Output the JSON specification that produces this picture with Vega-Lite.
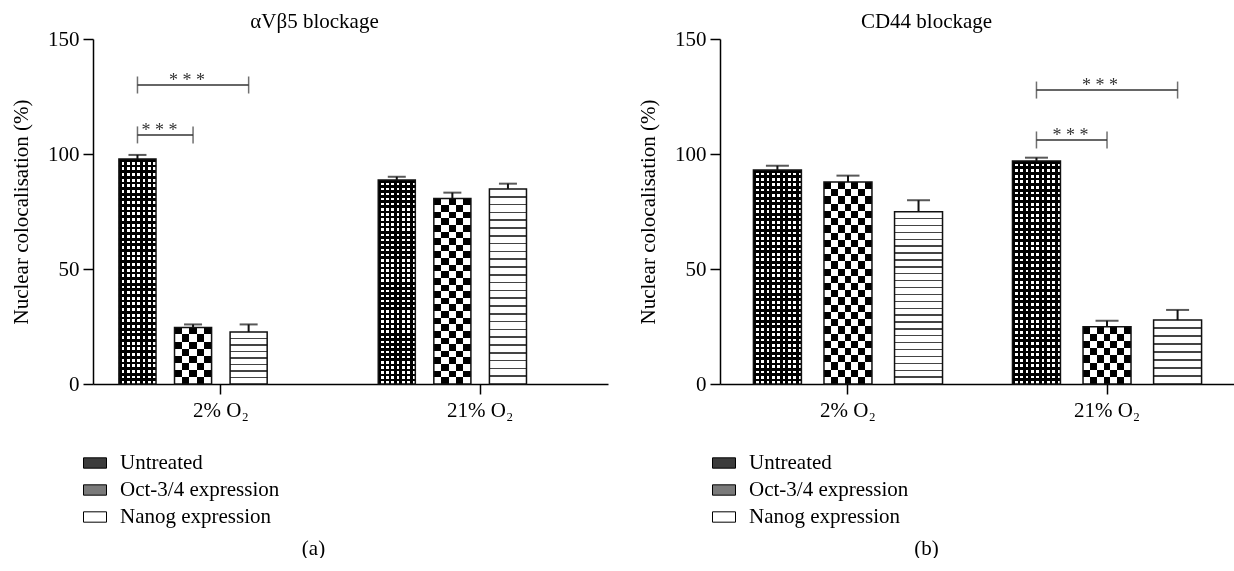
{
  "$schema": "https://vega.github.io/schema/vega-lite/v6.json",
  "background": "white",
  "padding": {"left": 10, "top": 11, "right": 0, "bottom": 0},
  "spacing": 29,
  "datasets": {
    "bars": [
      {"panel": "a", "oxygen": "2% O₂", "series": "Untreated", "value": 97.8, "err": 99.6},
      {"panel": "a", "oxygen": "2% O₂", "series": "Oct-3/4 expression", "value": 24.6, "err": 25.9},
      {"panel": "a", "oxygen": "2% O₂", "series": "Nanog expression", "value": 22.6, "err": 25.9},
      {"panel": "a", "oxygen": "21% O₂", "series": "Untreated", "value": 88.7, "err": 90.1},
      {"panel": "a", "oxygen": "21% O₂", "series": "Oct-3/4 expression", "value": 80.7, "err": 83.2},
      {"panel": "a", "oxygen": "21% O₂", "series": "Nanog expression", "value": 84.8, "err": 87.1},
      {"panel": "b", "oxygen": "2% O₂", "series": "Untreated", "value": 93.0, "err": 94.9},
      {"panel": "b", "oxygen": "2% O₂", "series": "Oct-3/4 expression", "value": 87.8, "err": 90.6},
      {"panel": "b", "oxygen": "2% O₂", "series": "Nanog expression", "value": 74.9, "err": 79.9},
      {"panel": "b", "oxygen": "21% O₂", "series": "Untreated", "value": 97.0, "err": 98.4},
      {"panel": "b", "oxygen": "21% O₂", "series": "Oct-3/4 expression", "value": 24.9, "err": 27.5},
      {"panel": "b", "oxygen": "21% O₂", "series": "Nanog expression", "value": 27.8, "err": 32.2}
    ],
    "brackets": [
      {"panel": "a", "id": "a1", "oxygen": "2% O₂", "series": "Untreated", "y": 130},
      {"panel": "a", "id": "a1", "oxygen": "2% O₂", "series": "Nanog expression", "y": 130},
      {"panel": "a", "id": "a2", "oxygen": "2% O₂", "series": "Untreated", "y": 108.3},
      {"panel": "a", "id": "a2", "oxygen": "2% O₂", "series": "Oct-3/4 expression", "y": 108.3},
      {"panel": "b", "id": "b1", "oxygen": "21% O₂", "series": "Untreated", "y": 127.8},
      {"panel": "b", "id": "b1", "oxygen": "21% O₂", "series": "Nanog expression", "y": 127.8},
      {"panel": "b", "id": "b2", "oxygen": "21% O₂", "series": "Untreated", "y": 106.1},
      {"panel": "b", "id": "b2", "oxygen": "21% O₂", "series": "Oct-3/4 expression", "y": 106.1}
    ],
    "stars": [
      {"panel": "a", "kind": "wide", "oxygen": "2% O₂", "series": "Oct-3/4 expression", "y": 130, "label": "* * *"},
      {"panel": "a", "kind": "adjacent", "oxygen": "2% O₂", "series": "Untreated", "y": 108.3, "label": "* * *"},
      {"panel": "b", "kind": "wide", "oxygen": "21% O₂", "series": "Oct-3/4 expression", "y": 127.8, "label": "* * *"},
      {"panel": "b", "kind": "adjacent", "oxygen": "21% O₂", "series": "Untreated", "y": 106.1, "label": "* * *"}
    ]
  },
  "resolve": {"scale": {"fill": "independent", "xOffset": "independent", "x": "independent", "y": "independent"}, "legend": {"fill": "independent"}},
  "hconcat": [
    {
      "width": 515,
      "height": 345,
      "title": {"text": "αVβ5 blockage", "anchor": "middle", "frame": "group", "dx": -36},
      "encoding": {
        "x": {"field": "oxygen", "type": "nominal", "sort": ["2% O₂", "21% O₂"], "scale": {"paddingInner": 0.214, "paddingOuter": 0.1}, "axis": {"title": "(a)", "titleX": 220, "titleY": 164, "titleBaseline": "middle", "titleAlign": "center"}},
        "xOffset": {"field": "series", "type": "nominal", "scale": {"domain": ["Untreated", "Oct-3/4 expression", "Nanog expression", "blank"], "paddingInner": 0.333, "paddingOuter": 0}}
      },
      "layer": [
        {"data": {"name": "bars"}, "transform": [{"filter": "datum.panel === 'a'"}],
         "mark": {"type": "bar", "strokeWidth": 0},
         "encoding": {
           "y": {"field": "value", "type": "quantitative", "scale": {"domain": [0, 150], "nice": false}, "axis": {"values": [0, 50, 100, 150]}, "title": "Nuclear colocalisation (%)"},
           "fill": {"field": "series", "type": "nominal", "scale": {"domain": ["Untreated", "Oct-3/4 expression", "Nanog expression"], "range": ["#3c3c3c", "#7a7a7a", "#ffffff"]},
             "legend": {"orient": "none", "legendX": -10, "legendY": 412, "title": null, "direction": "vertical", "symbolType": "M-1,-0.45H1V0.45H-1Z", "symbolSize": 529, "symbolStrokeColor": "#000", "symbolStrokeWidth": 1, "labelFont": "Liberation Serif", "labelFontSize": 21, "labelColor": "#000", "labelOffset": 13, "rowPadding": 5, "padding": 0}}
         }},
        {"data": {"name": "bars"}, "transform": [{"filter": "datum.panel === 'a' && datum.series === 'Untreated'"}],
         "mark": {"type": "bar", "fill": {"gradient": "linear", "x1": 0, "y1": 0, "x2": 0, "y2": 1, "stops": [
           {"offset": 0, "color": "#000"}, {"offset": 0.0125, "color": "#000"}, {"offset": 0.0125, "color": "#fff"}, {"offset": 0.025, "color": "#fff"}, {"offset": 0.025, "color": "#000"}, {"offset": 0.0375, "color": "#000"}, {"offset": 0.0375, "color": "#fff"}, {"offset": 0.05, "color": "#fff"}, {"offset": 0.05, "color": "#000"}, {"offset": 0.0625, "color": "#000"}, {"offset": 0.0625, "color": "#fff"}, {"offset": 0.075, "color": "#fff"}, {"offset": 0.075, "color": "#000"}, {"offset": 0.0875, "color": "#000"}, {"offset": 0.0875, "color": "#fff"}, {"offset": 0.1, "color": "#fff"}, {"offset": 0.1, "color": "#000"}, {"offset": 0.1125, "color": "#000"}, {"offset": 0.1125, "color": "#fff"}, {"offset": 0.125, "color": "#fff"}, {"offset": 0.125, "color": "#000"}, {"offset": 0.1375, "color": "#000"}, {"offset": 0.1375, "color": "#fff"}, {"offset": 0.15, "color": "#fff"}, {"offset": 0.15, "color": "#000"}, {"offset": 0.1625, "color": "#000"}, {"offset": 0.1625, "color": "#fff"}, {"offset": 0.175, "color": "#fff"}, {"offset": 0.175, "color": "#000"}, {"offset": 0.1875, "color": "#000"}, {"offset": 0.1875, "color": "#fff"}, {"offset": 0.2, "color": "#fff"}, {"offset": 0.2, "color": "#000"}, {"offset": 0.2125, "color": "#000"}, {"offset": 0.2125, "color": "#fff"}, {"offset": 0.225, "color": "#fff"}, {"offset": 0.225, "color": "#000"}, {"offset": 0.2375, "color": "#000"}, {"offset": 0.2375, "color": "#fff"}, {"offset": 0.25, "color": "#fff"}, {"offset": 0.25, "color": "#000"}, {"offset": 0.2625, "color": "#000"}, {"offset": 0.2625, "color": "#fff"}, {"offset": 0.275, "color": "#fff"}, {"offset": 0.275, "color": "#000"}, {"offset": 0.2875, "color": "#000"}, {"offset": 0.2875, "color": "#fff"}, {"offset": 0.3, "color": "#fff"}, {"offset": 0.3, "color": "#000"}, {"offset": 0.3125, "color": "#000"}, {"offset": 0.3125, "color": "#fff"}, {"offset": 0.325, "color": "#fff"}, {"offset": 0.325, "color": "#000"}, {"offset": 0.3375, "color": "#000"}, {"offset": 0.3375, "color": "#fff"}, {"offset": 0.35, "color": "#fff"}, {"offset": 0.35, "color": "#000"}, {"offset": 0.3625, "color": "#000"}, {"offset": 0.3625, "color": "#fff"}, {"offset": 0.375, "color": "#fff"}, {"offset": 0.375, "color": "#000"}, {"offset": 0.3875, "color": "#000"}, {"offset": 0.3875, "color": "#fff"}, {"offset": 0.4, "color": "#fff"}, {"offset": 0.4, "color": "#000"}, {"offset": 0.4125, "color": "#000"}, {"offset": 0.4125, "color": "#fff"}, {"offset": 0.425, "color": "#fff"}, {"offset": 0.425, "color": "#000"}, {"offset": 0.4375, "color": "#000"}, {"offset": 0.4375, "color": "#fff"}, {"offset": 0.45, "color": "#fff"}, {"offset": 0.45, "color": "#000"}, {"offset": 0.4625, "color": "#000"}, {"offset": 0.4625, "color": "#fff"}, {"offset": 0.475, "color": "#fff"}, {"offset": 0.475, "color": "#000"}, {"offset": 0.4875, "color": "#000"}, {"offset": 0.4875, "color": "#fff"}, {"offset": 0.5, "color": "#fff"}, {"offset": 0.5, "color": "#000"}, {"offset": 0.5125, "color": "#000"}, {"offset": 0.5125, "color": "#fff"}, {"offset": 0.525, "color": "#fff"}, {"offset": 0.525, "color": "#000"}, {"offset": 0.5375, "color": "#000"}, {"offset": 0.5375, "color": "#fff"}, {"offset": 0.55, "color": "#fff"}, {"offset": 0.55, "color": "#000"}, {"offset": 0.5625, "color": "#000"}, {"offset": 0.5625, "color": "#fff"}, {"offset": 0.575, "color": "#fff"}, {"offset": 0.575, "color": "#000"}, {"offset": 0.5875, "color": "#000"}, {"offset": 0.5875, "color": "#fff"}, {"offset": 0.6, "color": "#fff"}, {"offset": 0.6, "color": "#000"}, {"offset": 0.6125, "color": "#000"}, {"offset": 0.6125, "color": "#fff"}, {"offset": 0.625, "color": "#fff"}, {"offset": 0.625, "color": "#000"}, {"offset": 0.6375, "color": "#000"}, {"offset": 0.6375, "color": "#fff"}, {"offset": 0.65, "color": "#fff"}, {"offset": 0.65, "color": "#000"}, {"offset": 0.6625, "color": "#000"}, {"offset": 0.6625, "color": "#fff"}, {"offset": 0.675, "color": "#fff"}, {"offset": 0.675, "color": "#000"}, {"offset": 0.6875, "color": "#000"}, {"offset": 0.6875, "color": "#fff"}, {"offset": 0.7, "color": "#fff"}, {"offset": 0.7, "color": "#000"}, {"offset": 0.7125, "color": "#000"}, {"offset": 0.7125, "color": "#fff"}, {"offset": 0.725, "color": "#fff"}, {"offset": 0.725, "color": "#000"}, {"offset": 0.7375, "color": "#000"}, {"offset": 0.7375, "color": "#fff"}, {"offset": 0.75, "color": "#fff"}, {"offset": 0.75, "color": "#000"}, {"offset": 0.7625, "color": "#000"}, {"offset": 0.7625, "color": "#fff"}, {"offset": 0.775, "color": "#fff"}, {"offset": 0.775, "color": "#000"}, {"offset": 0.7875, "color": "#000"}, {"offset": 0.7875, "color": "#fff"}, {"offset": 0.8, "color": "#fff"}, {"offset": 0.8, "color": "#000"}, {"offset": 0.8125, "color": "#000"}, {"offset": 0.8125, "color": "#fff"}, {"offset": 0.825, "color": "#fff"}, {"offset": 0.825, "color": "#000"}, {"offset": 0.8375, "color": "#000"}, {"offset": 0.8375, "color": "#fff"}, {"offset": 0.85, "color": "#fff"}, {"offset": 0.85, "color": "#000"}, {"offset": 0.8625, "color": "#000"}, {"offset": 0.8625, "color": "#fff"}, {"offset": 0.875, "color": "#fff"}, {"offset": 0.875, "color": "#000"}, {"offset": 0.8875, "color": "#000"}, {"offset": 0.8875, "color": "#fff"}, {"offset": 0.9, "color": "#fff"}, {"offset": 0.9, "color": "#000"}, {"offset": 0.9125, "color": "#000"}, {"offset": 0.9125, "color": "#fff"}, {"offset": 0.925, "color": "#fff"}, {"offset": 0.925, "color": "#000"}, {"offset": 0.9375, "color": "#000"}, {"offset": 0.9375, "color": "#fff"}, {"offset": 0.95, "color": "#fff"}, {"offset": 0.95, "color": "#000"}, {"offset": 0.9625, "color": "#000"}, {"offset": 0.9625, "color": "#fff"}, {"offset": 0.975, "color": "#fff"}, {"offset": 0.975, "color": "#000"}, {"offset": 0.9875, "color": "#000"}, {"offset": 0.9875, "color": "#fff"}, {"offset": 1, "color": "#fff"}]}},
         "encoding": {"y": {"field": "value", "type": "quantitative", "title": "Nuclear colocalisation (%)"}}},
        {"data": {"name": "bars"}, "transform": [{"filter": "datum.panel === 'a' && datum.series === 'Untreated'"}],
         "mark": {"type": "bar", "blend": "multiply", "fill": {"gradient": "linear", "x1": 0, "y1": 0, "x2": 1, "y2": 0, "stops": [
           {"offset": 0, "color": "#000"}, {"offset": 0.0714, "color": "#000"}, {"offset": 0.0714, "color": "#fff"}, {"offset": 0.1429, "color": "#fff"}, {"offset": 0.1429, "color": "#000"}, {"offset": 0.2143, "color": "#000"}, {"offset": 0.2143, "color": "#fff"}, {"offset": 0.2857, "color": "#fff"}, {"offset": 0.2857, "color": "#000"}, {"offset": 0.3571, "color": "#000"}, {"offset": 0.3571, "color": "#fff"}, {"offset": 0.4286, "color": "#fff"}, {"offset": 0.4286, "color": "#000"}, {"offset": 0.5, "color": "#000"}, {"offset": 0.5, "color": "#fff"}, {"offset": 0.5714, "color": "#fff"}, {"offset": 0.5714, "color": "#000"}, {"offset": 0.6429, "color": "#000"}, {"offset": 0.6429, "color": "#fff"}, {"offset": 0.7143, "color": "#fff"}, {"offset": 0.7143, "color": "#000"}, {"offset": 0.7857, "color": "#000"}, {"offset": 0.7857, "color": "#fff"}, {"offset": 0.8571, "color": "#fff"}, {"offset": 0.8571, "color": "#000"}, {"offset": 0.9286, "color": "#000"}, {"offset": 0.9286, "color": "#fff"}, {"offset": 1, "color": "#fff"}]}},
         "encoding": {"y": {"field": "value", "type": "quantitative", "title": "Nuclear colocalisation (%)"}}},
        {"data": {"name": "bars"}, "transform": [{"filter": "datum.panel === 'a' && datum.series === 'Oct-3/4 expression' && datum.value > 50"}],
         "mark": {"type": "bar", "fill": {"gradient": "linear", "x1": 0, "y1": 0, "x2": 0, "y2": 1, "stops": [
           {"offset": 0, "color": "#000"}, {"offset": 0.0357, "color": "#000"}, {"offset": 0.0357, "color": "#fff"}, {"offset": 0.0714, "color": "#fff"}, {"offset": 0.0714, "color": "#000"}, {"offset": 0.1071, "color": "#000"}, {"offset": 0.1071, "color": "#fff"}, {"offset": 0.1429, "color": "#fff"}, {"offset": 0.1429, "color": "#000"}, {"offset": 0.1786, "color": "#000"}, {"offset": 0.1786, "color": "#fff"}, {"offset": 0.2143, "color": "#fff"}, {"offset": 0.2143, "color": "#000"}, {"offset": 0.25, "color": "#000"}, {"offset": 0.25, "color": "#fff"}, {"offset": 0.2857, "color": "#fff"}, {"offset": 0.2857, "color": "#000"}, {"offset": 0.3214, "color": "#000"}, {"offset": 0.3214, "color": "#fff"}, {"offset": 0.3571, "color": "#fff"}, {"offset": 0.3571, "color": "#000"}, {"offset": 0.3929, "color": "#000"}, {"offset": 0.3929, "color": "#fff"}, {"offset": 0.4286, "color": "#fff"}, {"offset": 0.4286, "color": "#000"}, {"offset": 0.4643, "color": "#000"}, {"offset": 0.4643, "color": "#fff"}, {"offset": 0.5, "color": "#fff"}, {"offset": 0.5, "color": "#000"}, {"offset": 0.5357, "color": "#000"}, {"offset": 0.5357, "color": "#fff"}, {"offset": 0.5714, "color": "#fff"}, {"offset": 0.5714, "color": "#000"}, {"offset": 0.6071, "color": "#000"}, {"offset": 0.6071, "color": "#fff"}, {"offset": 0.6429, "color": "#fff"}, {"offset": 0.6429, "color": "#000"}, {"offset": 0.6786, "color": "#000"}, {"offset": 0.6786, "color": "#fff"}, {"offset": 0.7143, "color": "#fff"}, {"offset": 0.7143, "color": "#000"}, {"offset": 0.75, "color": "#000"}, {"offset": 0.75, "color": "#fff"}, {"offset": 0.7857, "color": "#fff"}, {"offset": 0.7857, "color": "#000"}, {"offset": 0.8214, "color": "#000"}, {"offset": 0.8214, "color": "#fff"}, {"offset": 0.8571, "color": "#fff"}, {"offset": 0.8571, "color": "#000"}, {"offset": 0.8929, "color": "#000"}, {"offset": 0.8929, "color": "#fff"}, {"offset": 0.9286, "color": "#fff"}, {"offset": 0.9286, "color": "#000"}, {"offset": 0.9643, "color": "#000"}, {"offset": 0.9643, "color": "#fff"}, {"offset": 1, "color": "#fff"}]}},
         "encoding": {"y": {"field": "value", "type": "quantitative", "title": "Nuclear colocalisation (%)"}}},
        {"data": {"name": "bars"}, "transform": [{"filter": "datum.panel === 'a' && datum.series === 'Oct-3/4 expression' && datum.value <= 50"}],
         "mark": {"type": "bar", "fill": {"gradient": "linear", "x1": 0, "y1": 0, "x2": 0, "y2": 1, "stops": [
           {"offset": 0, "color": "#000"}, {"offset": 0.125, "color": "#000"}, {"offset": 0.125, "color": "#fff"}, {"offset": 0.25, "color": "#fff"}, {"offset": 0.25, "color": "#000"}, {"offset": 0.375, "color": "#000"}, {"offset": 0.375, "color": "#fff"}, {"offset": 0.5, "color": "#fff"}, {"offset": 0.5, "color": "#000"}, {"offset": 0.625, "color": "#000"}, {"offset": 0.625, "color": "#fff"}, {"offset": 0.75, "color": "#fff"}, {"offset": 0.75, "color": "#000"}, {"offset": 0.875, "color": "#000"}, {"offset": 0.875, "color": "#fff"}, {"offset": 1, "color": "#fff"}]}},
         "encoding": {"y": {"field": "value", "type": "quantitative", "title": "Nuclear colocalisation (%)"}}},
        {"data": {"name": "bars"}, "transform": [{"filter": "datum.panel === 'a' && datum.series === 'Oct-3/4 expression'"}],
         "mark": {"type": "bar", "blend": "difference", "fill": {"gradient": "linear", "x1": 0, "y1": 0, "x2": 1, "y2": 0, "stops": [
           {"offset": 0, "color": "#000"}, {"offset": 0.2, "color": "#000"}, {"offset": 0.2, "color": "#fff"}, {"offset": 0.4, "color": "#fff"}, {"offset": 0.4, "color": "#000"}, {"offset": 0.6, "color": "#000"}, {"offset": 0.6, "color": "#fff"}, {"offset": 0.8, "color": "#fff"}, {"offset": 0.8, "color": "#000"}, {"offset": 1, "color": "#000"}]}},
         "encoding": {"y": {"field": "value", "type": "quantitative", "title": "Nuclear colocalisation (%)"}}},
        {"data": {"name": "bars"}, "transform": [{"filter": "datum.panel === 'a' && datum.series === 'Nanog expression' && datum.value > 50"}],
         "mark": {"type": "bar", "fill": {"gradient": "linear", "x1": 0, "y1": 0, "x2": 0, "y2": 1, "stops": [
           {"offset": 0, "color": "#fff"},
           {"offset": 0.036, "color": "#fff"}, {"offset": 0.036, "color": "#444"}, {"offset": 0.044, "color": "#444"}, {"offset": 0.044, "color": "#fff"},
           {"offset": 0.076, "color": "#fff"}, {"offset": 0.076, "color": "#444"}, {"offset": 0.084, "color": "#444"}, {"offset": 0.084, "color": "#fff"},
           {"offset": 0.116, "color": "#fff"}, {"offset": 0.116, "color": "#444"}, {"offset": 0.124, "color": "#444"}, {"offset": 0.124, "color": "#fff"},
           {"offset": 0.156, "color": "#fff"}, {"offset": 0.156, "color": "#444"}, {"offset": 0.164, "color": "#444"}, {"offset": 0.164, "color": "#fff"},
           {"offset": 0.196, "color": "#fff"}, {"offset": 0.196, "color": "#444"}, {"offset": 0.204, "color": "#444"}, {"offset": 0.204, "color": "#fff"},
           {"offset": 0.236, "color": "#fff"}, {"offset": 0.236, "color": "#444"}, {"offset": 0.244, "color": "#444"}, {"offset": 0.244, "color": "#fff"},
           {"offset": 0.276, "color": "#fff"}, {"offset": 0.276, "color": "#444"}, {"offset": 0.284, "color": "#444"}, {"offset": 0.284, "color": "#fff"},
           {"offset": 0.316, "color": "#fff"}, {"offset": 0.316, "color": "#444"}, {"offset": 0.324, "color": "#444"}, {"offset": 0.324, "color": "#fff"},
           {"offset": 0.356, "color": "#fff"}, {"offset": 0.356, "color": "#444"}, {"offset": 0.364, "color": "#444"}, {"offset": 0.364, "color": "#fff"},
           {"offset": 0.396, "color": "#fff"}, {"offset": 0.396, "color": "#444"}, {"offset": 0.404, "color": "#444"}, {"offset": 0.404, "color": "#fff"},
           {"offset": 0.436, "color": "#fff"}, {"offset": 0.436, "color": "#444"}, {"offset": 0.444, "color": "#444"}, {"offset": 0.444, "color": "#fff"},
           {"offset": 0.476, "color": "#fff"}, {"offset": 0.476, "color": "#444"}, {"offset": 0.484, "color": "#444"}, {"offset": 0.484, "color": "#fff"},
           {"offset": 0.516, "color": "#fff"}, {"offset": 0.516, "color": "#444"}, {"offset": 0.524, "color": "#444"}, {"offset": 0.524, "color": "#fff"},
           {"offset": 0.556, "color": "#fff"}, {"offset": 0.556, "color": "#444"}, {"offset": 0.564, "color": "#444"}, {"offset": 0.564, "color": "#fff"},
           {"offset": 0.596, "color": "#fff"}, {"offset": 0.596, "color": "#444"}, {"offset": 0.604, "color": "#444"}, {"offset": 0.604, "color": "#fff"},
           {"offset": 0.636, "color": "#fff"}, {"offset": 0.636, "color": "#444"}, {"offset": 0.644, "color": "#444"}, {"offset": 0.644, "color": "#fff"},
           {"offset": 0.676, "color": "#fff"}, {"offset": 0.676, "color": "#444"}, {"offset": 0.684, "color": "#444"}, {"offset": 0.684, "color": "#fff"},
           {"offset": 0.716, "color": "#fff"}, {"offset": 0.716, "color": "#444"}, {"offset": 0.724, "color": "#444"}, {"offset": 0.724, "color": "#fff"},
           {"offset": 0.756, "color": "#fff"}, {"offset": 0.756, "color": "#444"}, {"offset": 0.764, "color": "#444"}, {"offset": 0.764, "color": "#fff"},
           {"offset": 0.796, "color": "#fff"}, {"offset": 0.796, "color": "#444"}, {"offset": 0.804, "color": "#444"}, {"offset": 0.804, "color": "#fff"},
           {"offset": 0.836, "color": "#fff"}, {"offset": 0.836, "color": "#444"}, {"offset": 0.844, "color": "#444"}, {"offset": 0.844, "color": "#fff"},
           {"offset": 0.876, "color": "#fff"}, {"offset": 0.876, "color": "#444"}, {"offset": 0.884, "color": "#444"}, {"offset": 0.884, "color": "#fff"},
           {"offset": 0.916, "color": "#fff"}, {"offset": 0.916, "color": "#444"}, {"offset": 0.924, "color": "#444"}, {"offset": 0.924, "color": "#fff"},
           {"offset": 0.956, "color": "#fff"}, {"offset": 0.956, "color": "#444"}, {"offset": 0.964, "color": "#444"}, {"offset": 0.964, "color": "#fff"},
           {"offset": 1, "color": "#fff"}]}},
         "encoding": {"y": {"field": "value", "type": "quantitative", "title": "Nuclear colocalisation (%)"}}},
        {"data": {"name": "bars"}, "transform": [{"filter": "datum.panel === 'a' && datum.series === 'Nanog expression' && datum.value <= 50"}],
         "mark": {"type": "bar", "fill": {"gradient": "linear", "x1": 0, "y1": 0, "x2": 0, "y2": 1, "stops": [
           {"offset": 0, "color": "#fff"},
           {"offset": 0.112, "color": "#fff"}, {"offset": 0.112, "color": "#444"}, {"offset": 0.138, "color": "#444"}, {"offset": 0.138, "color": "#fff"},
           {"offset": 0.237, "color": "#fff"}, {"offset": 0.237, "color": "#444"}, {"offset": 0.263, "color": "#444"}, {"offset": 0.263, "color": "#fff"},
           {"offset": 0.362, "color": "#fff"}, {"offset": 0.362, "color": "#444"}, {"offset": 0.388, "color": "#444"}, {"offset": 0.388, "color": "#fff"},
           {"offset": 0.487, "color": "#fff"}, {"offset": 0.487, "color": "#444"}, {"offset": 0.513, "color": "#444"}, {"offset": 0.513, "color": "#fff"},
           {"offset": 0.612, "color": "#fff"}, {"offset": 0.612, "color": "#444"}, {"offset": 0.638, "color": "#444"}, {"offset": 0.638, "color": "#fff"},
           {"offset": 0.737, "color": "#fff"}, {"offset": 0.737, "color": "#444"}, {"offset": 0.763, "color": "#444"}, {"offset": 0.763, "color": "#fff"},
           {"offset": 0.862, "color": "#fff"}, {"offset": 0.862, "color": "#444"}, {"offset": 0.888, "color": "#444"}, {"offset": 0.888, "color": "#fff"},
           {"offset": 1, "color": "#fff"}]}},
         "encoding": {"y": {"field": "value", "type": "quantitative", "title": "Nuclear colocalisation (%)"}}},
        {"data": {"name": "bars"}, "transform": [{"filter": "datum.panel === 'a'"}],
         "mark": {"type": "bar", "fill": "transparent", "stroke": "#111", "strokeWidth": 1.5},
         "encoding": {"y": {"field": "value", "type": "quantitative", "title": "Nuclear colocalisation (%)"}}},
        {"data": {"name": "bars"}, "transform": [{"filter": "datum.panel === 'a'"}],
         "mark": {"type": "rule", "color": "#111", "strokeWidth": 2},
         "encoding": {"y": {"field": "value", "type": "quantitative", "title": "Nuclear colocalisation (%)"}, "y2": {"field": "err"}}},
        {"data": {"name": "bars"}, "transform": [{"filter": "datum.panel === 'a'"}],
         "mark": {"type": "tick", "orient": "horizontal", "size": 18, "thickness": 2, "color": "#111"},
         "encoding": {"y": {"field": "err", "type": "quantitative", "title": "Nuclear colocalisation (%)"}}},
        {"data": {"name": "brackets"}, "transform": [{"filter": "datum.panel === 'a'"}],
         "mark": {"type": "line", "color": "#333", "strokeWidth": 1.5},
         "encoding": {"y": {"field": "y", "type": "quantitative", "title": "Nuclear colocalisation (%)"}, "detail": {"field": "id"}}},
        {"data": {"name": "brackets"}, "transform": [{"filter": "datum.panel === 'a'"}],
         "mark": {"type": "tick", "orient": "vertical", "size": 17, "thickness": 1.5, "color": "#333"},
         "encoding": {"y": {"field": "y", "type": "quantitative", "title": "Nuclear colocalisation (%)"}}},
        {"data": {"name": "stars"}, "transform": [{"filter": "datum.panel === 'a' && datum.kind === 'wide'"}],
         "mark": {"type": "text", "font": "Liberation Serif", "fontSize": 18, "color": "#333", "align": "center", "baseline": "alphabetic", "dy": 1, "dx": -6},
         "encoding": {"y": {"field": "y", "type": "quantitative", "title": "Nuclear colocalisation (%)"}, "text": {"field": "label"}}},
        {"data": {"name": "stars"}, "transform": [{"filter": "datum.panel === 'a' && datum.kind === 'adjacent'"}],
         "mark": {"type": "text", "font": "Liberation Serif", "fontSize": 18, "color": "#333", "align": "left", "baseline": "alphabetic", "dy": 1, "dx": 4},
         "encoding": {"y": {"field": "y", "type": "quantitative", "title": "Nuclear colocalisation (%)"}, "text": {"field": "label"}}}
      ]
    },
    {
      "width": 515,
      "height": 345,
      "title": {"text": "CD44 blockage", "anchor": "middle", "frame": "group", "dx": -51},
      "encoding": {
        "x": {"field": "oxygen", "type": "nominal", "sort": ["2% O₂", "21% O₂"], "scale": {"paddingInner": 0.27, "paddingOuter": 0.129}, "axis": {"title": "(b)", "titleX": 206, "titleY": 164, "titleBaseline": "middle", "titleAlign": "center"}},
        "xOffset": {"field": "series", "type": "nominal", "scale": {"domain": ["Untreated", "Oct-3/4 expression", "Nanog expression"], "paddingInner": 0.32, "paddingOuter": 0}}
      },
      "layer": [
        {"data": {"name": "bars"}, "transform": [{"filter": "datum.panel === 'b'"}],
         "mark": {"type": "bar", "strokeWidth": 0},
         "encoding": {
           "y": {"field": "value", "type": "quantitative", "scale": {"domain": [0, 150], "nice": false}, "axis": {"values": [0, 50, 100, 150]}, "title": "Nuclear colocalisation (%)"},
           "fill": {"field": "series", "type": "nominal", "scale": {"domain": ["Untreated", "Oct-3/4 expression", "Nanog expression"], "range": ["#3c3c3c", "#7a7a7a", "#ffffff"]},
             "legend": {"orient": "none", "legendX": -8, "legendY": 412, "title": null, "direction": "vertical", "symbolType": "M-1,-0.45H1V0.45H-1Z", "symbolSize": 529, "symbolStrokeColor": "#000", "symbolStrokeWidth": 1, "labelFont": "Liberation Serif", "labelFontSize": 21, "labelColor": "#000", "labelOffset": 13, "rowPadding": 5, "padding": 0}}
         }},
        {"data": {"name": "bars"}, "transform": [{"filter": "datum.panel === 'b' && datum.series === 'Untreated'"}],
         "mark": {"type": "bar", "fill": {"gradient": "linear", "x1": 0, "y1": 0, "x2": 0, "y2": 1, "stops": [
           {"offset": 0, "color": "#000"}, {"offset": 0.0125, "color": "#000"}, {"offset": 0.0125, "color": "#fff"}, {"offset": 0.025, "color": "#fff"}, {"offset": 0.025, "color": "#000"}, {"offset": 0.0375, "color": "#000"}, {"offset": 0.0375, "color": "#fff"}, {"offset": 0.05, "color": "#fff"}, {"offset": 0.05, "color": "#000"}, {"offset": 0.0625, "color": "#000"}, {"offset": 0.0625, "color": "#fff"}, {"offset": 0.075, "color": "#fff"}, {"offset": 0.075, "color": "#000"}, {"offset": 0.0875, "color": "#000"}, {"offset": 0.0875, "color": "#fff"}, {"offset": 0.1, "color": "#fff"}, {"offset": 0.1, "color": "#000"}, {"offset": 0.1125, "color": "#000"}, {"offset": 0.1125, "color": "#fff"}, {"offset": 0.125, "color": "#fff"}, {"offset": 0.125, "color": "#000"}, {"offset": 0.1375, "color": "#000"}, {"offset": 0.1375, "color": "#fff"}, {"offset": 0.15, "color": "#fff"}, {"offset": 0.15, "color": "#000"}, {"offset": 0.1625, "color": "#000"}, {"offset": 0.1625, "color": "#fff"}, {"offset": 0.175, "color": "#fff"}, {"offset": 0.175, "color": "#000"}, {"offset": 0.1875, "color": "#000"}, {"offset": 0.1875, "color": "#fff"}, {"offset": 0.2, "color": "#fff"}, {"offset": 0.2, "color": "#000"}, {"offset": 0.2125, "color": "#000"}, {"offset": 0.2125, "color": "#fff"}, {"offset": 0.225, "color": "#fff"}, {"offset": 0.225, "color": "#000"}, {"offset": 0.2375, "color": "#000"}, {"offset": 0.2375, "color": "#fff"}, {"offset": 0.25, "color": "#fff"}, {"offset": 0.25, "color": "#000"}, {"offset": 0.2625, "color": "#000"}, {"offset": 0.2625, "color": "#fff"}, {"offset": 0.275, "color": "#fff"}, {"offset": 0.275, "color": "#000"}, {"offset": 0.2875, "color": "#000"}, {"offset": 0.2875, "color": "#fff"}, {"offset": 0.3, "color": "#fff"}, {"offset": 0.3, "color": "#000"}, {"offset": 0.3125, "color": "#000"}, {"offset": 0.3125, "color": "#fff"}, {"offset": 0.325, "color": "#fff"}, {"offset": 0.325, "color": "#000"}, {"offset": 0.3375, "color": "#000"}, {"offset": 0.3375, "color": "#fff"}, {"offset": 0.35, "color": "#fff"}, {"offset": 0.35, "color": "#000"}, {"offset": 0.3625, "color": "#000"}, {"offset": 0.3625, "color": "#fff"}, {"offset": 0.375, "color": "#fff"}, {"offset": 0.375, "color": "#000"}, {"offset": 0.3875, "color": "#000"}, {"offset": 0.3875, "color": "#fff"}, {"offset": 0.4, "color": "#fff"}, {"offset": 0.4, "color": "#000"}, {"offset": 0.4125, "color": "#000"}, {"offset": 0.4125, "color": "#fff"}, {"offset": 0.425, "color": "#fff"}, {"offset": 0.425, "color": "#000"}, {"offset": 0.4375, "color": "#000"}, {"offset": 0.4375, "color": "#fff"}, {"offset": 0.45, "color": "#fff"}, {"offset": 0.45, "color": "#000"}, {"offset": 0.4625, "color": "#000"}, {"offset": 0.4625, "color": "#fff"}, {"offset": 0.475, "color": "#fff"}, {"offset": 0.475, "color": "#000"}, {"offset": 0.4875, "color": "#000"}, {"offset": 0.4875, "color": "#fff"}, {"offset": 0.5, "color": "#fff"}, {"offset": 0.5, "color": "#000"}, {"offset": 0.5125, "color": "#000"}, {"offset": 0.5125, "color": "#fff"}, {"offset": 0.525, "color": "#fff"}, {"offset": 0.525, "color": "#000"}, {"offset": 0.5375, "color": "#000"}, {"offset": 0.5375, "color": "#fff"}, {"offset": 0.55, "color": "#fff"}, {"offset": 0.55, "color": "#000"}, {"offset": 0.5625, "color": "#000"}, {"offset": 0.5625, "color": "#fff"}, {"offset": 0.575, "color": "#fff"}, {"offset": 0.575, "color": "#000"}, {"offset": 0.5875, "color": "#000"}, {"offset": 0.5875, "color": "#fff"}, {"offset": 0.6, "color": "#fff"}, {"offset": 0.6, "color": "#000"}, {"offset": 0.6125, "color": "#000"}, {"offset": 0.6125, "color": "#fff"}, {"offset": 0.625, "color": "#fff"}, {"offset": 0.625, "color": "#000"}, {"offset": 0.6375, "color": "#000"}, {"offset": 0.6375, "color": "#fff"}, {"offset": 0.65, "color": "#fff"}, {"offset": 0.65, "color": "#000"}, {"offset": 0.6625, "color": "#000"}, {"offset": 0.6625, "color": "#fff"}, {"offset": 0.675, "color": "#fff"}, {"offset": 0.675, "color": "#000"}, {"offset": 0.6875, "color": "#000"}, {"offset": 0.6875, "color": "#fff"}, {"offset": 0.7, "color": "#fff"}, {"offset": 0.7, "color": "#000"}, {"offset": 0.7125, "color": "#000"}, {"offset": 0.7125, "color": "#fff"}, {"offset": 0.725, "color": "#fff"}, {"offset": 0.725, "color": "#000"}, {"offset": 0.7375, "color": "#000"}, {"offset": 0.7375, "color": "#fff"}, {"offset": 0.75, "color": "#fff"}, {"offset": 0.75, "color": "#000"}, {"offset": 0.7625, "color": "#000"}, {"offset": 0.7625, "color": "#fff"}, {"offset": 0.775, "color": "#fff"}, {"offset": 0.775, "color": "#000"}, {"offset": 0.7875, "color": "#000"}, {"offset": 0.7875, "color": "#fff"}, {"offset": 0.8, "color": "#fff"}, {"offset": 0.8, "color": "#000"}, {"offset": 0.8125, "color": "#000"}, {"offset": 0.8125, "color": "#fff"}, {"offset": 0.825, "color": "#fff"}, {"offset": 0.825, "color": "#000"}, {"offset": 0.8375, "color": "#000"}, {"offset": 0.8375, "color": "#fff"}, {"offset": 0.85, "color": "#fff"}, {"offset": 0.85, "color": "#000"}, {"offset": 0.8625, "color": "#000"}, {"offset": 0.8625, "color": "#fff"}, {"offset": 0.875, "color": "#fff"}, {"offset": 0.875, "color": "#000"}, {"offset": 0.8875, "color": "#000"}, {"offset": 0.8875, "color": "#fff"}, {"offset": 0.9, "color": "#fff"}, {"offset": 0.9, "color": "#000"}, {"offset": 0.9125, "color": "#000"}, {"offset": 0.9125, "color": "#fff"}, {"offset": 0.925, "color": "#fff"}, {"offset": 0.925, "color": "#000"}, {"offset": 0.9375, "color": "#000"}, {"offset": 0.9375, "color": "#fff"}, {"offset": 0.95, "color": "#fff"}, {"offset": 0.95, "color": "#000"}, {"offset": 0.9625, "color": "#000"}, {"offset": 0.9625, "color": "#fff"}, {"offset": 0.975, "color": "#fff"}, {"offset": 0.975, "color": "#000"}, {"offset": 0.9875, "color": "#000"}, {"offset": 0.9875, "color": "#fff"}, {"offset": 1, "color": "#fff"}]}},
         "encoding": {"y": {"field": "value", "type": "quantitative", "title": "Nuclear colocalisation (%)"}}},
        {"data": {"name": "bars"}, "transform": [{"filter": "datum.panel === 'b' && datum.series === 'Untreated'"}],
         "mark": {"type": "bar", "blend": "multiply", "fill": {"gradient": "linear", "x1": 0, "y1": 0, "x2": 1, "y2": 0, "stops": [
           {"offset": 0, "color": "#000"}, {"offset": 0.0556, "color": "#000"}, {"offset": 0.0556, "color": "#fff"}, {"offset": 0.1111, "color": "#fff"}, {"offset": 0.1111, "color": "#000"}, {"offset": 0.1667, "color": "#000"}, {"offset": 0.1667, "color": "#fff"}, {"offset": 0.2222, "color": "#fff"}, {"offset": 0.2222, "color": "#000"}, {"offset": 0.2778, "color": "#000"}, {"offset": 0.2778, "color": "#fff"}, {"offset": 0.3333, "color": "#fff"}, {"offset": 0.3333, "color": "#000"}, {"offset": 0.3889, "color": "#000"}, {"offset": 0.3889, "color": "#fff"}, {"offset": 0.4444, "color": "#fff"}, {"offset": 0.4444, "color": "#000"}, {"offset": 0.5, "color": "#000"}, {"offset": 0.5, "color": "#fff"}, {"offset": 0.5556, "color": "#fff"}, {"offset": 0.5556, "color": "#000"}, {"offset": 0.6111, "color": "#000"}, {"offset": 0.6111, "color": "#fff"}, {"offset": 0.6667, "color": "#fff"}, {"offset": 0.6667, "color": "#000"}, {"offset": 0.7222, "color": "#000"}, {"offset": 0.7222, "color": "#fff"}, {"offset": 0.7778, "color": "#fff"}, {"offset": 0.7778, "color": "#000"}, {"offset": 0.8333, "color": "#000"}, {"offset": 0.8333, "color": "#fff"}, {"offset": 0.8889, "color": "#fff"}, {"offset": 0.8889, "color": "#000"}, {"offset": 0.9444, "color": "#000"}, {"offset": 0.9444, "color": "#fff"}, {"offset": 1, "color": "#fff"}]}},
         "encoding": {"y": {"field": "value", "type": "quantitative", "title": "Nuclear colocalisation (%)"}}},
        {"data": {"name": "bars"}, "transform": [{"filter": "datum.panel === 'b' && datum.series === 'Oct-3/4 expression' && datum.value > 50"}],
         "mark": {"type": "bar", "fill": {"gradient": "linear", "x1": 0, "y1": 0, "x2": 0, "y2": 1, "stops": [
           {"offset": 0, "color": "#000"}, {"offset": 0.0357, "color": "#000"}, {"offset": 0.0357, "color": "#fff"}, {"offset": 0.0714, "color": "#fff"}, {"offset": 0.0714, "color": "#000"}, {"offset": 0.1071, "color": "#000"}, {"offset": 0.1071, "color": "#fff"}, {"offset": 0.1429, "color": "#fff"}, {"offset": 0.1429, "color": "#000"}, {"offset": 0.1786, "color": "#000"}, {"offset": 0.1786, "color": "#fff"}, {"offset": 0.2143, "color": "#fff"}, {"offset": 0.2143, "color": "#000"}, {"offset": 0.25, "color": "#000"}, {"offset": 0.25, "color": "#fff"}, {"offset": 0.2857, "color": "#fff"}, {"offset": 0.2857, "color": "#000"}, {"offset": 0.3214, "color": "#000"}, {"offset": 0.3214, "color": "#fff"}, {"offset": 0.3571, "color": "#fff"}, {"offset": 0.3571, "color": "#000"}, {"offset": 0.3929, "color": "#000"}, {"offset": 0.3929, "color": "#fff"}, {"offset": 0.4286, "color": "#fff"}, {"offset": 0.4286, "color": "#000"}, {"offset": 0.4643, "color": "#000"}, {"offset": 0.4643, "color": "#fff"}, {"offset": 0.5, "color": "#fff"}, {"offset": 0.5, "color": "#000"}, {"offset": 0.5357, "color": "#000"}, {"offset": 0.5357, "color": "#fff"}, {"offset": 0.5714, "color": "#fff"}, {"offset": 0.5714, "color": "#000"}, {"offset": 0.6071, "color": "#000"}, {"offset": 0.6071, "color": "#fff"}, {"offset": 0.6429, "color": "#fff"}, {"offset": 0.6429, "color": "#000"}, {"offset": 0.6786, "color": "#000"}, {"offset": 0.6786, "color": "#fff"}, {"offset": 0.7143, "color": "#fff"}, {"offset": 0.7143, "color": "#000"}, {"offset": 0.75, "color": "#000"}, {"offset": 0.75, "color": "#fff"}, {"offset": 0.7857, "color": "#fff"}, {"offset": 0.7857, "color": "#000"}, {"offset": 0.8214, "color": "#000"}, {"offset": 0.8214, "color": "#fff"}, {"offset": 0.8571, "color": "#fff"}, {"offset": 0.8571, "color": "#000"}, {"offset": 0.8929, "color": "#000"}, {"offset": 0.8929, "color": "#fff"}, {"offset": 0.9286, "color": "#fff"}, {"offset": 0.9286, "color": "#000"}, {"offset": 0.9643, "color": "#000"}, {"offset": 0.9643, "color": "#fff"}, {"offset": 1, "color": "#fff"}]}},
         "encoding": {"y": {"field": "value", "type": "quantitative", "title": "Nuclear colocalisation (%)"}}},
        {"data": {"name": "bars"}, "transform": [{"filter": "datum.panel === 'b' && datum.series === 'Oct-3/4 expression' && datum.value <= 50"}],
         "mark": {"type": "bar", "fill": {"gradient": "linear", "x1": 0, "y1": 0, "x2": 0, "y2": 1, "stops": [
           {"offset": 0, "color": "#000"}, {"offset": 0.125, "color": "#000"}, {"offset": 0.125, "color": "#fff"}, {"offset": 0.25, "color": "#fff"}, {"offset": 0.25, "color": "#000"}, {"offset": 0.375, "color": "#000"}, {"offset": 0.375, "color": "#fff"}, {"offset": 0.5, "color": "#fff"}, {"offset": 0.5, "color": "#000"}, {"offset": 0.625, "color": "#000"}, {"offset": 0.625, "color": "#fff"}, {"offset": 0.75, "color": "#fff"}, {"offset": 0.75, "color": "#000"}, {"offset": 0.875, "color": "#000"}, {"offset": 0.875, "color": "#fff"}, {"offset": 1, "color": "#fff"}]}},
         "encoding": {"y": {"field": "value", "type": "quantitative", "title": "Nuclear colocalisation (%)"}}},
        {"data": {"name": "bars"}, "transform": [{"filter": "datum.panel === 'b' && datum.series === 'Oct-3/4 expression'"}],
         "mark": {"type": "bar", "blend": "difference", "fill": {"gradient": "linear", "x1": 0, "y1": 0, "x2": 1, "y2": 0, "stops": [
           {"offset": 0, "color": "#000"}, {"offset": 0.1429, "color": "#000"}, {"offset": 0.1429, "color": "#fff"}, {"offset": 0.2857, "color": "#fff"}, {"offset": 0.2857, "color": "#000"}, {"offset": 0.4286, "color": "#000"}, {"offset": 0.4286, "color": "#fff"}, {"offset": 0.5714, "color": "#fff"}, {"offset": 0.5714, "color": "#000"}, {"offset": 0.7143, "color": "#000"}, {"offset": 0.7143, "color": "#fff"}, {"offset": 0.8571, "color": "#fff"}, {"offset": 0.8571, "color": "#000"}, {"offset": 1, "color": "#000"}]}},
         "encoding": {"y": {"field": "value", "type": "quantitative", "title": "Nuclear colocalisation (%)"}}},
        {"data": {"name": "bars"}, "transform": [{"filter": "datum.panel === 'b' && datum.series === 'Nanog expression' && datum.value > 50"}],
         "mark": {"type": "bar", "fill": {"gradient": "linear", "x1": 0, "y1": 0, "x2": 0, "y2": 1, "stops": [
           {"offset": 0, "color": "#fff"},
           {"offset": 0.036, "color": "#fff"}, {"offset": 0.036, "color": "#444"}, {"offset": 0.044, "color": "#444"}, {"offset": 0.044, "color": "#fff"},
           {"offset": 0.076, "color": "#fff"}, {"offset": 0.076, "color": "#444"}, {"offset": 0.084, "color": "#444"}, {"offset": 0.084, "color": "#fff"},
           {"offset": 0.116, "color": "#fff"}, {"offset": 0.116, "color": "#444"}, {"offset": 0.124, "color": "#444"}, {"offset": 0.124, "color": "#fff"},
           {"offset": 0.156, "color": "#fff"}, {"offset": 0.156, "color": "#444"}, {"offset": 0.164, "color": "#444"}, {"offset": 0.164, "color": "#fff"},
           {"offset": 0.196, "color": "#fff"}, {"offset": 0.196, "color": "#444"}, {"offset": 0.204, "color": "#444"}, {"offset": 0.204, "color": "#fff"},
           {"offset": 0.236, "color": "#fff"}, {"offset": 0.236, "color": "#444"}, {"offset": 0.244, "color": "#444"}, {"offset": 0.244, "color": "#fff"},
           {"offset": 0.276, "color": "#fff"}, {"offset": 0.276, "color": "#444"}, {"offset": 0.284, "color": "#444"}, {"offset": 0.284, "color": "#fff"},
           {"offset": 0.316, "color": "#fff"}, {"offset": 0.316, "color": "#444"}, {"offset": 0.324, "color": "#444"}, {"offset": 0.324, "color": "#fff"},
           {"offset": 0.356, "color": "#fff"}, {"offset": 0.356, "color": "#444"}, {"offset": 0.364, "color": "#444"}, {"offset": 0.364, "color": "#fff"},
           {"offset": 0.396, "color": "#fff"}, {"offset": 0.396, "color": "#444"}, {"offset": 0.404, "color": "#444"}, {"offset": 0.404, "color": "#fff"},
           {"offset": 0.436, "color": "#fff"}, {"offset": 0.436, "color": "#444"}, {"offset": 0.444, "color": "#444"}, {"offset": 0.444, "color": "#fff"},
           {"offset": 0.476, "color": "#fff"}, {"offset": 0.476, "color": "#444"}, {"offset": 0.484, "color": "#444"}, {"offset": 0.484, "color": "#fff"},
           {"offset": 0.516, "color": "#fff"}, {"offset": 0.516, "color": "#444"}, {"offset": 0.524, "color": "#444"}, {"offset": 0.524, "color": "#fff"},
           {"offset": 0.556, "color": "#fff"}, {"offset": 0.556, "color": "#444"}, {"offset": 0.564, "color": "#444"}, {"offset": 0.564, "color": "#fff"},
           {"offset": 0.596, "color": "#fff"}, {"offset": 0.596, "color": "#444"}, {"offset": 0.604, "color": "#444"}, {"offset": 0.604, "color": "#fff"},
           {"offset": 0.636, "color": "#fff"}, {"offset": 0.636, "color": "#444"}, {"offset": 0.644, "color": "#444"}, {"offset": 0.644, "color": "#fff"},
           {"offset": 0.676, "color": "#fff"}, {"offset": 0.676, "color": "#444"}, {"offset": 0.684, "color": "#444"}, {"offset": 0.684, "color": "#fff"},
           {"offset": 0.716, "color": "#fff"}, {"offset": 0.716, "color": "#444"}, {"offset": 0.724, "color": "#444"}, {"offset": 0.724, "color": "#fff"},
           {"offset": 0.756, "color": "#fff"}, {"offset": 0.756, "color": "#444"}, {"offset": 0.764, "color": "#444"}, {"offset": 0.764, "color": "#fff"},
           {"offset": 0.796, "color": "#fff"}, {"offset": 0.796, "color": "#444"}, {"offset": 0.804, "color": "#444"}, {"offset": 0.804, "color": "#fff"},
           {"offset": 0.836, "color": "#fff"}, {"offset": 0.836, "color": "#444"}, {"offset": 0.844, "color": "#444"}, {"offset": 0.844, "color": "#fff"},
           {"offset": 0.876, "color": "#fff"}, {"offset": 0.876, "color": "#444"}, {"offset": 0.884, "color": "#444"}, {"offset": 0.884, "color": "#fff"},
           {"offset": 0.916, "color": "#fff"}, {"offset": 0.916, "color": "#444"}, {"offset": 0.924, "color": "#444"}, {"offset": 0.924, "color": "#fff"},
           {"offset": 0.956, "color": "#fff"}, {"offset": 0.956, "color": "#444"}, {"offset": 0.964, "color": "#444"}, {"offset": 0.964, "color": "#fff"},
           {"offset": 1, "color": "#fff"}]}},
         "encoding": {"y": {"field": "value", "type": "quantitative", "title": "Nuclear colocalisation (%)"}}},
        {"data": {"name": "bars"}, "transform": [{"filter": "datum.panel === 'b' && datum.series === 'Nanog expression' && datum.value <= 50"}],
         "mark": {"type": "bar", "fill": {"gradient": "linear", "x1": 0, "y1": 0, "x2": 0, "y2": 1, "stops": [
           {"offset": 0, "color": "#fff"},
           {"offset": 0.112, "color": "#fff"}, {"offset": 0.112, "color": "#444"}, {"offset": 0.138, "color": "#444"}, {"offset": 0.138, "color": "#fff"},
           {"offset": 0.237, "color": "#fff"}, {"offset": 0.237, "color": "#444"}, {"offset": 0.263, "color": "#444"}, {"offset": 0.263, "color": "#fff"},
           {"offset": 0.362, "color": "#fff"}, {"offset": 0.362, "color": "#444"}, {"offset": 0.388, "color": "#444"}, {"offset": 0.388, "color": "#fff"},
           {"offset": 0.487, "color": "#fff"}, {"offset": 0.487, "color": "#444"}, {"offset": 0.513, "color": "#444"}, {"offset": 0.513, "color": "#fff"},
           {"offset": 0.612, "color": "#fff"}, {"offset": 0.612, "color": "#444"}, {"offset": 0.638, "color": "#444"}, {"offset": 0.638, "color": "#fff"},
           {"offset": 0.737, "color": "#fff"}, {"offset": 0.737, "color": "#444"}, {"offset": 0.763, "color": "#444"}, {"offset": 0.763, "color": "#fff"},
           {"offset": 0.862, "color": "#fff"}, {"offset": 0.862, "color": "#444"}, {"offset": 0.888, "color": "#444"}, {"offset": 0.888, "color": "#fff"},
           {"offset": 1, "color": "#fff"}]}},
         "encoding": {"y": {"field": "value", "type": "quantitative", "title": "Nuclear colocalisation (%)"}}},
        {"data": {"name": "bars"}, "transform": [{"filter": "datum.panel === 'b'"}],
         "mark": {"type": "bar", "fill": "transparent", "stroke": "#111", "strokeWidth": 1.5},
         "encoding": {"y": {"field": "value", "type": "quantitative", "title": "Nuclear colocalisation (%)"}}},
        {"data": {"name": "bars"}, "transform": [{"filter": "datum.panel === 'b'"}],
         "mark": {"type": "rule", "color": "#111", "strokeWidth": 2},
         "encoding": {"y": {"field": "value", "type": "quantitative", "title": "Nuclear colocalisation (%)"}, "y2": {"field": "err"}}},
        {"data": {"name": "bars"}, "transform": [{"filter": "datum.panel === 'b'"}],
         "mark": {"type": "tick", "orient": "horizontal", "size": 23, "thickness": 2, "color": "#111"},
         "encoding": {"y": {"field": "err", "type": "quantitative", "title": "Nuclear colocalisation (%)"}}},
        {"data": {"name": "brackets"}, "transform": [{"filter": "datum.panel === 'b'"}],
         "mark": {"type": "line", "color": "#333", "strokeWidth": 1.5},
         "encoding": {"y": {"field": "y", "type": "quantitative", "title": "Nuclear colocalisation (%)"}, "detail": {"field": "id"}}},
        {"data": {"name": "brackets"}, "transform": [{"filter": "datum.panel === 'b'"}],
         "mark": {"type": "tick", "orient": "vertical", "size": 17, "thickness": 1.5, "color": "#333"},
         "encoding": {"y": {"field": "y", "type": "quantitative", "title": "Nuclear colocalisation (%)"}}},
        {"data": {"name": "stars"}, "transform": [{"filter": "datum.panel === 'b' && datum.kind === 'wide'"}],
         "mark": {"type": "text", "font": "Liberation Serif", "fontSize": 18, "color": "#333", "align": "center", "baseline": "alphabetic", "dy": 1, "dx": -7},
         "encoding": {"y": {"field": "y", "type": "quantitative", "title": "Nuclear colocalisation (%)"}, "text": {"field": "label"}}},
        {"data": {"name": "stars"}, "transform": [{"filter": "datum.panel === 'b' && datum.kind === 'adjacent'"}],
         "mark": {"type": "text", "font": "Liberation Serif", "fontSize": 18, "color": "#333", "align": "left", "baseline": "alphabetic", "dy": 1, "dx": 16},
         "encoding": {"y": {"field": "y", "type": "quantitative", "title": "Nuclear colocalisation (%)"}, "text": {"field": "label"}}}
      ]
    }
  ],
  "config": {
    "view": {"stroke": null},
    "font": "Liberation Serif",
    "title": {"font": "Liberation Serif", "fontSize": 21, "fontWeight": "normal", "color": "#000", "offset": -4},
    "axis": {"grid": false, "domainColor": "#000", "domainWidth": 1.5, "tickColor": "#000", "tickWidth": 1.5, "tickSize": 10, "labelFont": "Liberation Serif", "labelFontSize": 21, "labelColor": "#000", "titleFont": "Liberation Serif", "titleFontSize": 21, "titleFontWeight": "normal", "titleColor": "#000"},
    "axisX": {"labelAngle": 0, "labelPadding": 5},
    "axisY": {"labelPadding": 4, "titlePadding": 16}
  }
}
